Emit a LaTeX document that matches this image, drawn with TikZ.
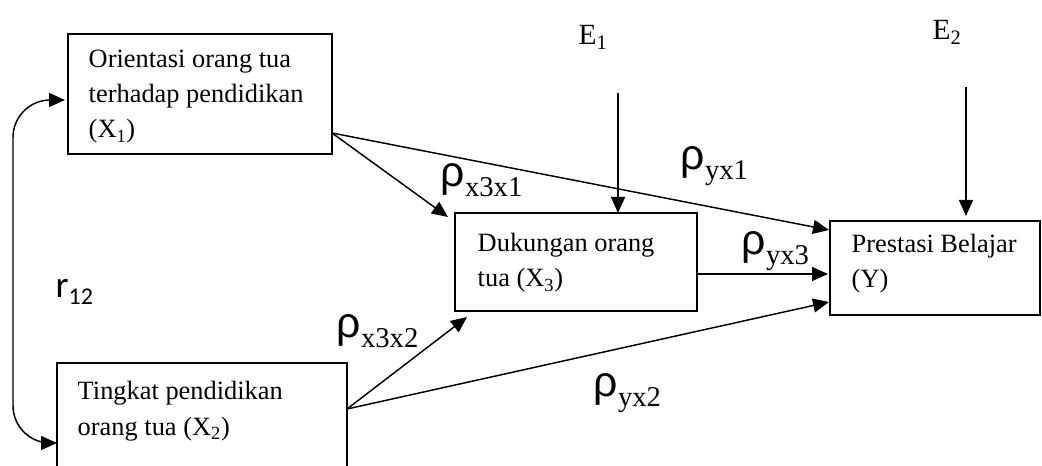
\documentclass[tikz,border=0pt]{standalone}
\usepackage{fontspec}
\setmainfont{Liberation Serif}
\newfontfamily\rhofont{Liberation Sans}
\newfontfamily\rfont{Carlito}
\usetikzlibrary{arrows.meta,calc}

\newcommand{\coef}[1]{{\rhofont\fontsize{32}{32}\selectfont ρ}\raisebox{-7.5pt}{\fontsize{21.5}{21.5}\selectfont #1}}

\begin{document}
\begin{tikzpicture}[x=0.75pt, y=-0.75pt, line width=1.1pt,
    box/.style={draw, line width=1pt, anchor=north west, inner sep=0pt, outer sep=0pt},
    boxtext/.style={anchor=base west, align=left, inner sep=0pt, font=\fontsize{19.8}{26.3}\selectfont},
    arr/.style={-{Triangle[length=12pt,width=10.5pt]}}]
  \useasboundingbox (0,0) rectangle (1042,466);
  % boxes
  \node[box, minimum width=198pt, minimum height=90pt] (x1) at (68,34) {};
  \node[box, minimum width=217.5pt, minimum height=87.75pt] (x2) at (57,363) {};
  \node[box, minimum width=181.5pt, minimum height=73.5pt] (x3) at (455,213) {};
  \node[box, minimum width=157.5pt, minimum height=70.5pt] (y) at (830,221) {};
  % text sits on the baseline of its last line
  \node[boxtext] (tx1) at ($(x1.north west)+(20,104)$) {Orientasi orang tua\\terhadap pendidikan\\(X\textsubscript{1})};
  \node[boxtext] (tx2) at ($(x2.north west)+(20,72)$) {Tingkat pendidikan\\orang tua (X\textsubscript{2})};
  \node[boxtext] (tx3) at ($(x3.north west)+(22,74)$) {Dukungan orang\\tua (X\textsubscript{3})};
  \node[boxtext] (ty) at ($(y.north west)+(21,67)$) {Prestasi Belajar\\(Y)};
  % error terms
  \node[anchor=base west, inner sep=0pt, font=\fontsize{22}{22}\selectfont] (e1) at (578,45) {E\textsubscript{1}};
  \node[anchor=base west, inner sep=0pt, font=\fontsize{22}{22}\selectfont] (e2) at (932,40) {E\textsubscript{2}};
  \coordinate (e1s) at (618,93);
  \coordinate (e2s) at (966,87);
  \draw[arr] (e1s) -- (e1s |- x3.north);
  \draw[arr] (e2s) -- ($(e2s |- y.north)+(0,-5)$);
  % paths
  \draw[arr] ($(x1.south east)+(0,-21)$) -- ($(x3.north west)+(-7,4)$);
  \draw[arr] ($(x1.south east)+(0,-21)$) -- ($(y.north west)+(-1,9)$);
  \draw[arr] ($(x3.south east)+(0,-37)$) -- ($(y.west)+(-2,6)$);
  \draw[arr] ($(x2.north east)+(0,46)$) -- ($(x3.south west)+(12,6)$);
  \draw[arr] ($(x2.north east)+(0,46)$) -- ($(y.south west)+(-1,-13)$);
  % correlation
  \draw[{Triangle[length=12pt,width=10.5pt]}-{Triangle[length=12pt,width=10.5pt]}, rounded corners=28pt]
    ($(x1.north west)+(-3,66)$) -- (13,100) -- (13,443) -- ($(x2.north west)+(0,80)$);
  % coefficients
  \node[anchor=base west, inner sep=0pt] (p31) at (440,187) {\coef{x3x1}};
  \node[anchor=base west, inner sep=0pt] (py1) at (680,170) {\coef{yx1}};
  \node[anchor=base west, inner sep=0pt] (py3) at (741,255) {\coef{yx3}};
  \node[anchor=base west, inner sep=0pt] (p32) at (336,338) {\coef{x3x2}};
  \node[anchor=base west, inner sep=0pt] (py2) at (593,397) {\coef{yx2}};
  \node[anchor=base west, inner sep=0pt] (r12) at (55,298) {\rfont\fontsize{28}{28}\selectfont r\raisebox{-5pt}{\fontsize{18}{18}\selectfont 12}};
\end{tikzpicture}
\end{document}
